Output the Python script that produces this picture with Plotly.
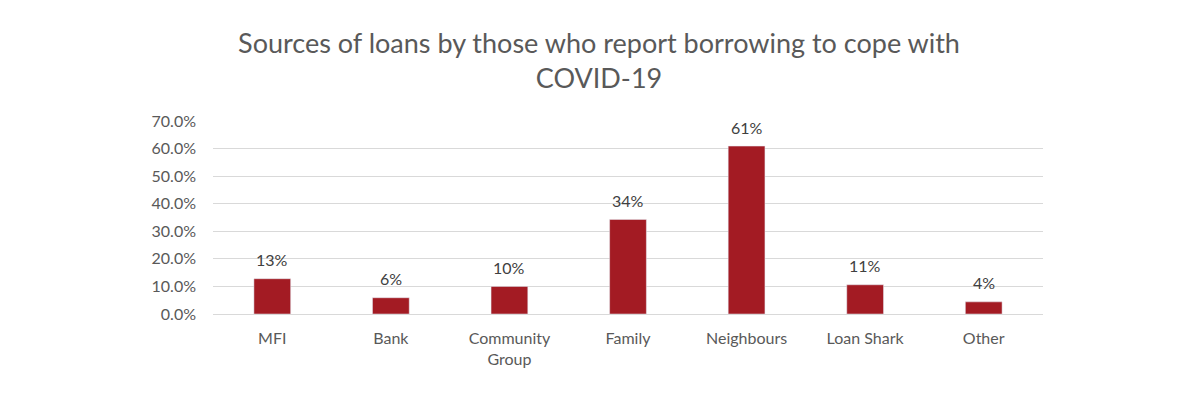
import plotly.graph_objects as go

categories = ["MFI", "Bank", "Community<br>Group", "Family", "Neighbours", "Loan Shark", "Other"]
values = [0.128, 0.059, 0.100, 0.343, 0.609, 0.106, 0.044]
labels = ["13%", "6%", "10%", "34%", "61%", "11%", "4%"]
y_ticks = [0, 0.1, 0.2, 0.3, 0.4, 0.5, 0.6, 0.7]
y_tick_text = ["0.0%", "10.0%", "20.0%", "30.0%", "40.0%", "50.0%", "60.0%", "70.0%"]

fig = go.Figure(go.Bar(
    x=categories, y=values,
    marker=dict(color="#A31B23"),
))
for c, v, t in zip(categories, values, labels):
    fig.add_annotation(x=c, y=v, text=t, showarrow=False, yanchor="middle", yshift=19,
                       font=dict(size=16, color="#404040"))
fig.update_layout(
    width=1200, height=394,
    margin=dict(l=205, r=165, t=113, b=88),
    paper_bgcolor="white", plot_bgcolor="white",
    font=dict(family="Lato", color="#595959", size=16),
    title=dict(text="Sources of loans by those who report borrowing to cope with<br>COVID-19",
               x=0.4925, xanchor="center", y=0.887, yanchor="top",
               font=dict(size=27, color="#595959")),
    bargap=0.69, showlegend=False,
)
fig.update_xaxes(showgrid=False, ticks="outside", ticklen=10, tickcolor="rgba(0,0,0,0)",
                 showline=False)
fig.update_yaxes(range=[0, 0.7], tickvals=y_ticks, ticktext=y_tick_text,
                 showgrid=True, gridcolor="#D9D9D9", gridwidth=1,
                 zeroline=True, zerolinecolor="#D9D9D9", zerolinewidth=1,
                 ticklabelstandoff=16)
fig.write_html("out.html")
